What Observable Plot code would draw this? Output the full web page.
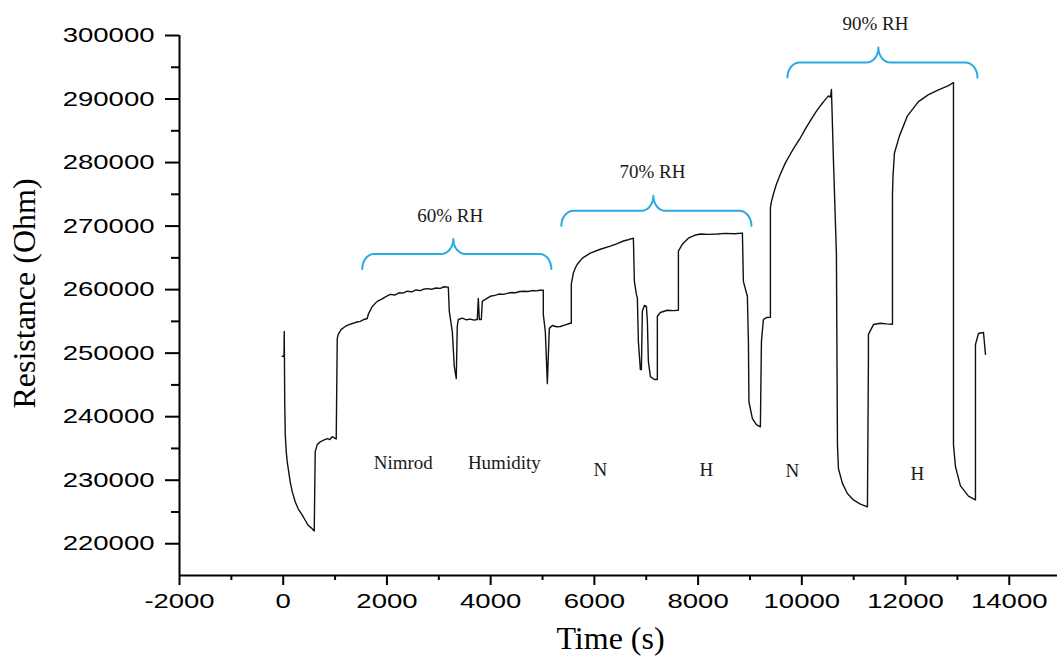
<!DOCTYPE html>
<html><head><meta charset="utf-8">
<script src="https://cdn.jsdelivr.net/npm/d3@7"></script>
<script src="https://cdn.jsdelivr.net/npm/@observablehq/plot@0.6"></script>
<style>
body{margin:0;background:#fff}
#chart svg{display:block}
</style></head><body><div id="chart"></div>
<script>
// [time (s), resistance (Ohm)]
const startup = [
 [-20,249500],[15,249500],[20,253400],[29,242400],[39,237200],[58,234500],[77,232900],[106,231300],[135,229700],[174,228200],[231,226600],[289,225500],[367,224500],[424,223700],[482,222900],[540,222500],[598,222000],
 [617,234500],[656,235600],[714,236050],[780,236300],[849,236550],[900,236400],[945,236850],[1000,236600],[1022,236500],
 [1042,252300],[1061,252950],[1119,253750],[1196,254200],[1270,254500],[1350,254700],[1420,254900],[1485,255000],[1560,255300],[1620,255450]
];
const rh60 = [
 [1640,256100],[1717,257350],[1813,258150],[1900,258500],[1980,258900],[2064,259250],[2150,259150],[2230,259500],[2310,259450],[2392,259750],[2480,259650],[2560,259950],[2640,259850],[2701,260050],[2780,260150],[2860,260050],[2940,260250],[3029,260200],[3100,260450],[3183,260400],
 [3202,256600],[3260,253400],[3299,247900],[3337,246000],
 [3356,254200],[3376,255300],[3453,255500],[3530,255250],[3607,255350],[3680,255200],[3742,255300],
 [3762,258600],[3781,255300],[3820,255300],[3839,258150],[3897,258450],[3993,258950],[4080,259100],[4160,259300],[4240,259250],[4321,259400],[4400,259550],[4480,259500],[4560,259700],[4630,259750],[4720,259700],[4800,259850],[4880,259800],[4950,259900],[5015,259900],
 [5015,256100],[5054,253400],[5093,245200],
 [5131,253900],[5189,254350],[5270,254150],[5343,254200],[5440,254450],[5536,254700],[5555,254700]
];
const rh70 = [
 [5555,260850],[5594,262600],[5632,263400],[5671,264000],[5768,264950],[5922,265750],[6115,266350],[6308,266850],[6430,267200],[6559,267650],[6650,267850],[6752,268100],
 [6771,261300],[6810,259250],[6829,258650],[6848,251850],[6887,247400],[6906,247400],
 [6925,256600],[6964,257500],[7003,257350],[7022,255000],[7041,248700],[7080,246300],[7157,245850],[7214,245850],
 [7214,255800],[7272,256400],[7407,256750],[7520,256700],[7620,256750],
 [7620,266050],[7697,267150],[7812,268100],[7930,268550],[8044,268750],[8200,268700],[8372,268750],[8520,268850],[8700,268800],[8854,268900],
 [8873,261300],[8950,258950],[8970,251850],[8980,242350],[9047,239700],[9124,238750],[9201,238400],
 [9221,251850],[9259,255300],[9317,255600],[9394,255650]
];
const rh90 = [
 [9394,272850],[9413,273800],[9452,275050],[9510,276600],[9587,278200],[9683,279950],[9780,281350],[9876,282650],[9973,283900],[10069,285300],[10166,286600],[10262,287850],[10359,288950],[10436,289750],[10513,290500],[10552,290300],[10571,291500],
 [10610,280250],[10667,265600],[10687,235600],[10706,231800],[10783,229500],[10879,227900],[10995,226900],[11130,226250],[11265,225800],
 [11284,248700],[11284,252950],[11381,254500],[11516,254700],[11630,254600],[11748,254550],
 [11748,275050],[11758,277900],[11786,281500],[11883,284200],[12037,287350],[12249,289600],[12442,290700],[12635,291450],[12828,292100],[12924,292600],
 [12924,235600],[12963,232100],[13059,229100],[13213,227500],[13348,226900],
 [13348,251350],[13406,253100],[13503,253250],[13541,249800]
];

const xMajor = [-2000,0,2000,4000,6000,8000,10000,12000,14000];
const xMinor = [-1000,1000,3000,5000,7000,9000,11000,13000];
const yMajor = [220000,230000,240000,250000,260000,270000,280000,290000,300000];
const yMinor = [225000,235000,245000,255000,265000,275000,285000,295000];

const phaseLabels = ["Nimrod","Humidity","N","H","N","H"];
const phaseTime   = [2315,4263,6115,8160,9819,12230];
const phaseLevel  = [232650,232650,231600,231600,231500,231000];

const rhLabels = ["60% RH","70% RH","90% RH"];
const rhTime   = [3221,7118,11420];
const rhLevel  = [271600,278500,301900];

const braceStart = [1524,5363,9722];
const braceEnd   = [5170,9028,13387];
const braceTip   = [3279,7137,11477];
const braceLevel = [265620,272400,295740];

const W=1057,H=659,mL=179,mR=0,mT=35,mB=84;
const xDomain=[-2000,14930], yDomain=[215000,300000];
const xS=d3.scaleLinear(xDomain,[mL,W-mR]);
const yS=d3.scaleLinear(yDomain,[H-mB,mT]);

const curve = [...startup,...rh60,...rh70,...rh90].map(([t,r])=>({t,r}));

const bracePts=[];
braceStart.forEach((s,i)=>{
  const x1=xS(s), x2=xS(braceEnd[i]), xc=xS(braceTip[i]), yf=yS(braceLevel[i]);
  const rx=12, ry=15, n=10, P=[];
  for(let k=0;k<=n;k++){const a=(1-k/n)*Math.PI/2; P.push([x1+rx-rx*Math.sin(a), yf+ry-ry*Math.cos(a)]);}
  for(let k=0;k<=n;k++){const a=(k/n)*Math.PI/2; P.push([xc-rx+rx*Math.sin(a), yf-ry+ry*Math.cos(a)]);}
  for(let k=0;k<=n;k++){const a=(1-k/n)*Math.PI/2; P.push([xc+rx-rx*Math.sin(a), yf-ry+ry*Math.cos(a)]);}
  for(let k=0;k<=n;k++){const a=(k/n)*Math.PI/2; P.push([x2-rx+rx*Math.sin(a), yf+ry-ry*Math.cos(a)]);}
  P.forEach(([px,py])=>bracePts.push({t:xS.invert(px), r:yS.invert(py), b:i}));
});

const serif="'Liberation Serif','Times New Roman',serif";
const plot = Plot.plot({
  width:W, height:H, marginLeft:mL, marginRight:mR, marginTop:mT, marginBottom:mB,
  x:{domain:xDomain}, y:{domain:yDomain},
  style:{fontFamily:"'Liberation Sans',Arial,sans-serif", fontSize:"21px", color:"#000", background:"#fff"},
  marks:[
    Plot.axisY({ticks:yMajor, tickSize:14, tickPadding:11, tickFormat:d=>String(d), label:null, strokeWidth:2}),
    Plot.axisY({ticks:yMinor, tickSize:8, tickFormat:()=>"", label:null, strokeWidth:2}),
    Plot.axisX({ticks:xMajor, tickSize:10, tickPadding:8, tickFormat:d=>String(d), label:null, strokeWidth:2}),
    Plot.axisX({ticks:xMinor, tickSize:5, tickFormat:()=>"", label:null, strokeWidth:2}),
    Plot.ruleX([xDomain[0]], {stroke:"#000", strokeWidth:2}),
    Plot.ruleY([yDomain[0]], {stroke:"#000", strokeWidth:2}),
    Plot.line(curve, {x:"t", y:"r", stroke:"#111", strokeWidth:1.4}),
    Plot.line(bracePts, {x:"t", y:"r", z:"b", stroke:"#29abe2", strokeWidth:2}),
    Plot.text(phaseLabels, {x:(d,i)=>phaseTime[i], y:(d,i)=>phaseLevel[i], text:d=>d, fontFamily:serif, fontSize:19, fill:"#1a1a1a"}),
    Plot.text(rhLabels, {x:(d,i)=>rhTime[i], y:(d,i)=>rhLevel[i], text:d=>d, fontFamily:serif, fontSize:19, fill:"#1a1a1a"}),
    Plot.text(["Resistance (Ohm)"], {frameAnchor:"left", textAnchor:"middle", lineAnchor:"middle", dx:-155, dy:-12, rotate:-90, fontFamily:serif, fontSize:32, fill:"#000"}),
    Plot.text(["Time (s)"], {frameAnchor:"bottom", textAnchor:"middle", lineAnchor:"middle", dx:-8, dy:63, fontFamily:serif, fontSize:32, fill:"#000"})
  ]
});
plot.querySelectorAll('g[aria-label*="tick label"] text').forEach(t=>{
  const s=t.textContent; if(!s) return;
  const len=[...s].reduce((a,c)=>a+(c==="-"?9:15.3),0);
  t.setAttribute("textLength",len); t.setAttribute("lengthAdjust","spacingAndGlyphs");
});
document.getElementById("chart").appendChild(plot);
</script></body></html>
